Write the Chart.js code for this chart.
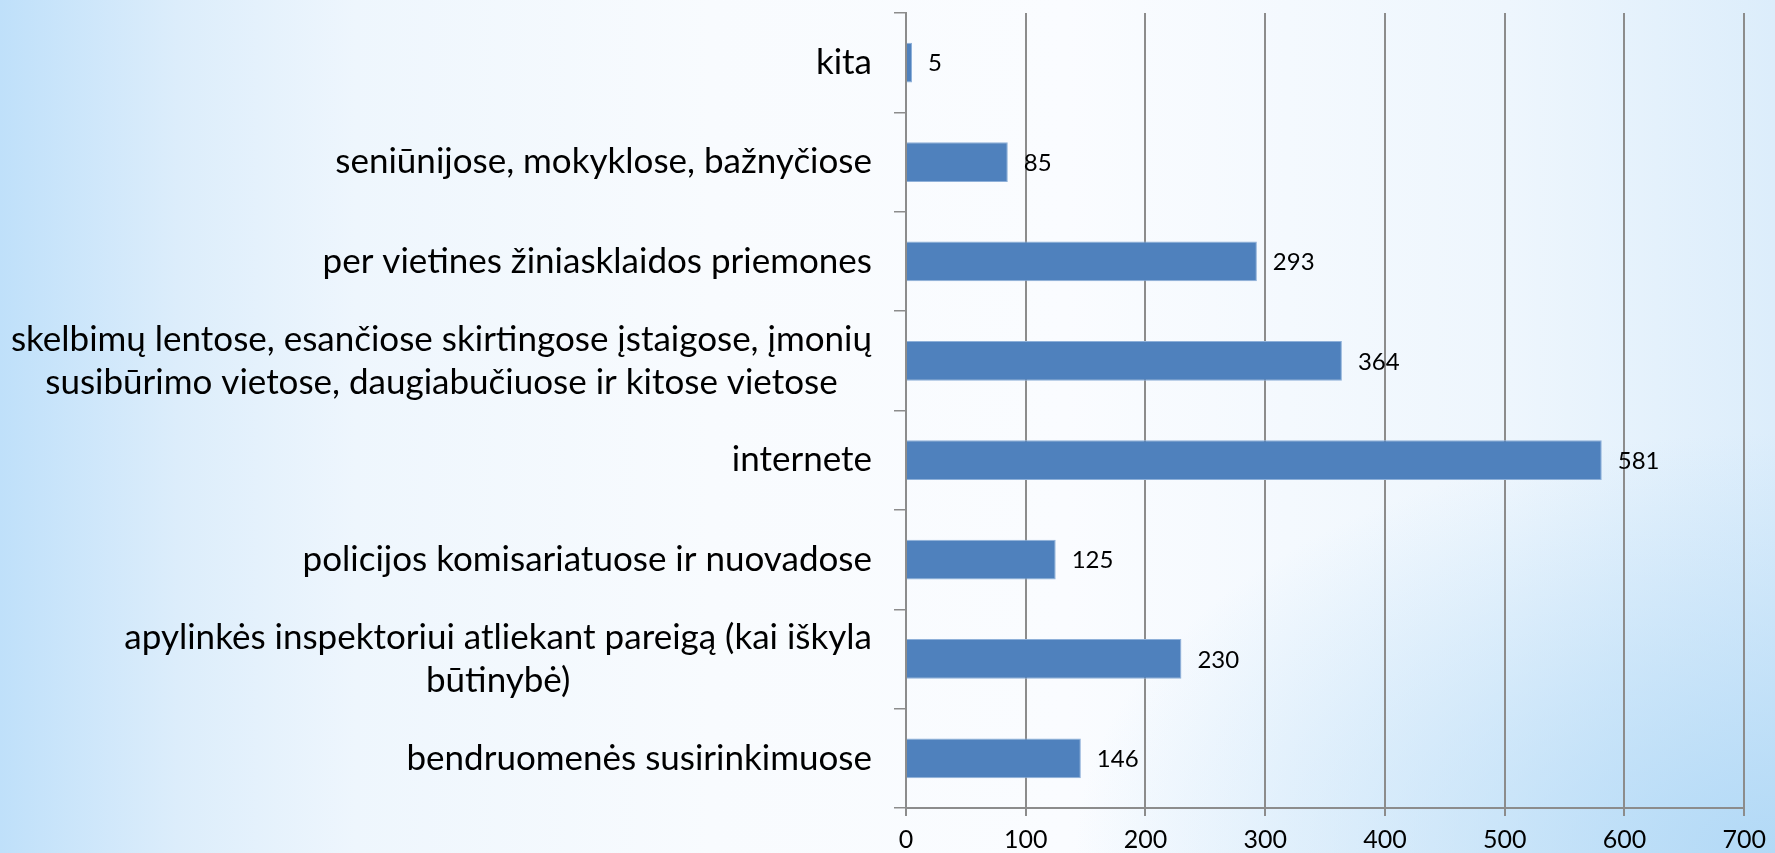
<!DOCTYPE html>
<html>
<head>
<meta charset="utf-8">
<script src="https://cdn.jsdelivr.net/npm/chart.js@4/dist/chart.umd.min.js"></script>
<style>
  html, body { margin: 0; padding: 0; }
  body {
    width: 1775px; height: 853px; overflow: hidden;
    background:
      radial-gradient(ellipse 700px 420px at 100% 100%, rgba(176,216,246,0.95), rgba(176,216,246,0) 100%),
      linear-gradient(to right, #bfe0fa 0%, #dcedfb 10%, #eef6fd 20%, #f8fbfe 40%, #fafcff 60%, #eef6fd 85%, #dcedfb 100%);
  }
  #wrap { position: absolute; left: 0; top: 0; width: 1775px; height: 853px; }
</style>
</head>
<body>
<div id="wrap"><canvas id="myChart"></canvas></div>
<script>
// categories, top to bottom as shown
const categories = [
  ['kita'],
  ['seniūnijose, mokyklose, bažnyčiose'],
  ['per vietines žiniasklaidos priemones'],
  ['skelbimų lentose, esančiose skirtingose įstaigose, įmonių', 'susibūrimo vietose, daugiabučiuose ir kitose vietose'],
  ['internete'],
  ['policijos komisariatuose ir nuovadose'],
  ['apylinkės inspektoriui atliekant pareigą (kai iškyla', 'būtinybė)'],
  ['bendruomenės susirinkimuose']
];
const values = [5, 85, 293, 364, 581, 125, 230, 146];
const xTicks = [0, 100, 200, 300, 400, 500, 600, 700];

// category labels: each block right aligned, lines centred within it
const categoryLabels = {
  id: 'categoryLabels',
  afterDraw(chart) {
    const ctx = chart.ctx;
    const y = chart.scales.y;
    const right = chart.chartArea.left - 34;
    ctx.save();
    ctx.font = '35px Lato';
    ctx.fillStyle = '#000';
    ctx.textAlign = 'center';
    ctx.textBaseline = 'middle';
    categories.forEach((lines, i) => {
      const cy = y.getPixelForValue(i);
      const w = Math.max(...lines.map(l => ctx.measureText(l).width));
      lines.forEach((line, j) => {
        ctx.fillText(line, right - w / 2, cy + (j - (lines.length - 1) / 2) * 43);
      });
    });
    ctx.restore();
  }
};

// value labels right of the bars
const valueLabels = {
  id: 'valueLabels',
  afterDatasetsDraw(chart) {
    const ctx = chart.ctx;
    const meta = chart.getDatasetMeta(0);
    ctx.save();
    ctx.font = '24px Lato';
    ctx.fillStyle = '#000';
    ctx.textAlign = 'left';
    ctx.textBaseline = 'middle';
    meta.data.forEach((bar, i) => {
      ctx.fillText(values[i], bar.x + 16, bar.y + 1);
    });
    ctx.restore();
  }
};

const ctx = document.getElementById('myChart').getContext('2d');
new Chart(ctx, {
  type: 'bar',
  data: {
    labels: categories,
    datasets: [{
      data: values,
      backgroundColor: '#4f81bd',
      borderColor: '#8eb0d9',
      borderWidth: 1,
      categoryPercentage: 1,
      barPercentage: 0.4
    }]
  },
  options: {
    indexAxis: 'y',
    responsive: true,
    maintainAspectRatio: false,
    animation: false,
    layout: { padding: { top: 13, right: 23, left: 0, bottom: 0 } },
    plugins: { legend: { display: false }, tooltip: { enabled: false } },
    scales: {
      x: {
        type: 'linear',
        min: 0,
        max: 700,
        afterBuildTicks: (s) => { s.ticks = xTicks.map(v => ({ value: v })); },
        afterFit: (s) => { s.height = 45; },
        grid: { color: '#8c8c8c', lineWidth: 2, tickLength: 8 },
        border: { color: '#8c8c8c', width: 2 },
        ticks: { font: { family: 'Lato', size: 25 }, color: '#000', padding: 9 }
      },
      y: {
        type: 'category',
        offset: true,
        afterFit: (s) => { s.width = 906; },
        grid: { drawOnChartArea: false, offset: true, color: '#8c8c8c', lineWidth: 1.5, tickLength: 12 },
        border: { color: '#8c8c8c', width: 2 },
        ticks: { display: false }
      }
    }
  },
  plugins: [categoryLabels, valueLabels]
});
</script>
</body>
</html>
